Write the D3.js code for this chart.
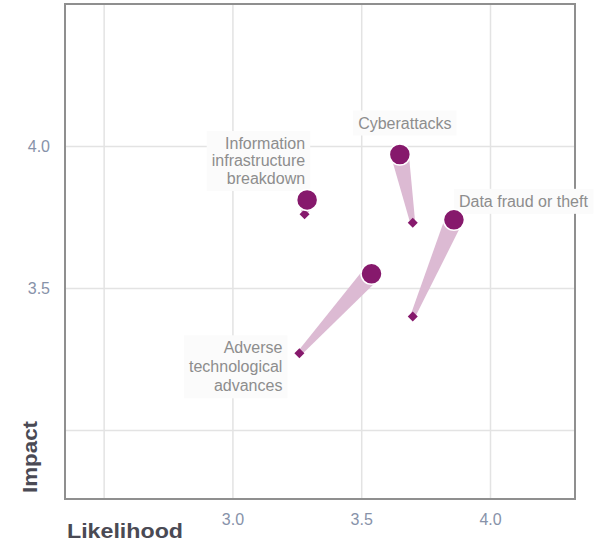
<!DOCTYPE html>
<html>
<head>
<meta charset="utf-8">
<script src="https://cdn.jsdelivr.net/npm/d3@7"></script>
<style>
  html, body { margin: 0; padding: 0; background: #fff; }
  svg { display: block; font-family: "Liberation Sans", Arial, sans-serif; }
</style>
</head>
<body>
<svg id="chart" width="597" height="547"></svg>
<script>
// Risks plotted on likelihood (x) vs impact (y): previous position (diamond) and current position (circle)
const risks = ["Information infrastructure breakdown", "Cyberattacks", "Data fraud or theft", "Adverse technological advances"];
const labelLines = [
  ["Information", "infrastructure", "breakdown"],
  ["Cyberattacks"],
  ["Data fraud or theft"],
  ["Adverse", "technological", "advances"]
];
const likelihoodPrev = [3.28, 3.70, 3.70, 3.26];
const impactPrev     = [3.76, 3.73, 3.40, 3.27];
const likelihoodNow  = [3.29, 3.65, 3.86, 3.54];
const impactNow      = [3.81, 3.97, 3.74, 3.55];

const xGridValues = [2.5, 3.0, 3.5, 4.0];
const yGridValues = [3.0, 3.5, 4.0];
const xTickValues = [3.0, 3.5, 4.0];
const yTickValues = [3.5, 4.0];

const svg = d3.select("#chart");
const plot = { left: 65, right: 575, top: 4, bottom: 499 };

const x = d3.scaleLinear().domain([2.35, 4.33]).range([plot.left, plot.right]);
const y = d3.scaleLinear().domain([2.757, 4.5]).range([plot.bottom, plot.top]);

const purple = "#86196c";
const band = "#dcbad3";

// gridlines
const gx = svg.append("g")
  .attr("transform", `translate(0,${plot.bottom})`)
  .call(d3.axisBottom(x).tickValues(xGridValues).tickSize(-(plot.bottom - plot.top)).tickFormat(""));
const gy = svg.append("g")
  .attr("transform", `translate(${plot.left},0)`)
  .call(d3.axisLeft(y).tickValues(yGridValues).tickSize(-(plot.right - plot.left)).tickFormat(""));
[gx, gy].forEach(g => {
  g.select(".domain").remove();
  g.selectAll(".tick line").attr("stroke", "#e3e3e3").attr("stroke-width", 1.5);
});

// frame
svg.append("rect")
  .attr("x", plot.left).attr("y", plot.top)
  .attr("width", plot.right - plot.left).attr("height", plot.bottom - plot.top)
  .attr("fill", "none").attr("stroke", "#8f8f8f").attr("stroke-width", 2);

// tick labels
const tickColor = "#8792a9";
const ax = svg.append("g")
  .attr("transform", `translate(0,${plot.bottom})`)
  .call(d3.axisBottom(x).tickValues(xTickValues).tickSize(0).tickPadding(15).tickFormat(d3.format(".1f")));
const ay = svg.append("g")
  .attr("transform", `translate(${plot.left},0)`)
  .call(d3.axisLeft(y).tickValues(yTickValues).tickSize(0).tickPadding(15).tickFormat(d3.format(".1f")));
[ax, ay].forEach(g => {
  g.select(".domain").remove();
  g.selectAll("text").attr("fill", tickColor).attr("font-size", 16).attr("font-family", "Liberation Sans, Arial, sans-serif");
});

// axis titles
svg.append("text")
  .attr("transform", "translate(37,493) rotate(-90)")
  .attr("font-size", 20).attr("font-weight", "bold").attr("fill", "#4a4a54")
  .attr("textLength", 72).attr("lengthAdjust", "spacingAndGlyphs")
  .text("Impact");
svg.append("text")
  .attr("x", 67).attr("y", 538)
  .attr("font-size", 20).attr("font-weight", "bold").attr("fill", "#4a4a54")
  .attr("textLength", 116).attr("lengthAdjust", "spacingAndGlyphs")
  .text("Likelihood");

// movement bands: tapered from previous (narrow) to current (wide)
const items = risks.map((name, i) => ({
  name, lines: labelLines[i],
  x0: x(likelihoodPrev[i]), y0: y(impactPrev[i]),
  x1: x(likelihoodNow[i]), y1: y(impactNow[i])
}));

function taper(d, w0, w1) {
  const dx = d.x1 - d.x0, dy = d.y1 - d.y0;
  const len = Math.hypot(dx, dy) || 1;
  const nx = -dy / len, ny = dx / len;
  return [
    [d.x0 + nx * w0, d.y0 + ny * w0],
    [d.x1 + nx * w1, d.y1 + ny * w1],
    [d.x1 - nx * w1, d.y1 - ny * w1],
    [d.x0 - nx * w0, d.y0 - ny * w0]
  ];
}
svg.append("g").selectAll("path")
  .data(items)
  .join("path")
  .attr("d", d => d3.line()(taper(d, 2.5, 9)) + "Z")
  .attr("fill", band);

// labels: placement relative to the marker each one names
const labelPlacement = [
  { anchor: "end",    dx: -2,  dy: -51, ref: "now" },
  { anchor: "middle", dx: 5,   dy: -26, ref: "now" },
  { anchor: "start",  dx: 5,   dy: -13, ref: "now" },
  { anchor: "end",    dx: -17, dy: 0,   ref: "prev" }
];
const lineHeight = [17.5, 17.5, 17.5, 19];
const labelColor = "#8d8d8d";

const labels = svg.append("g").selectAll("g")
  .data(items)
  .join("g");

labels.each(function (d, i) {
  const p = labelPlacement[i];
  const bx = (p.ref === "now" ? d.x1 : d.x0) + p.dx;
  const by = (p.ref === "now" ? d.y1 : d.y0) + p.dy;
  const g = d3.select(this);
  const bg = g.append("rect").attr("fill", "#fbfbfb");
  const t = g.append("text")
    .attr("font-size", 16)
    .attr("fill", labelColor)
    .attr("text-anchor", p.anchor);
  d.lines.forEach((ln, k) => {
    t.append("tspan").attr("x", bx).attr("y", by + k * lineHeight[i]).text(ln);
  });
  const bb = t.node().getBBox();
  bg.attr("x", bb.x - 5).attr("y", bb.y - 4)
    .attr("width", bb.width + 10).attr("height", bb.height + 8);
});

// previous positions (diamonds)
svg.append("g").selectAll("path")
  .data(items)
  .join("path")
  .attr("transform", d => `translate(${d.x0},${d.y0}) rotate(45)`)
  .attr("d", d3.symbol(d3.symbolSquare, 50)())
  .attr("fill", purple);

// current positions (circles)
svg.append("g").selectAll("circle")
  .data(items)
  .join("circle")
  .attr("cx", d => d.x1).attr("cy", d => d.y1)
  .attr("r", 10.5)
  .attr("fill", purple)
  .attr("stroke", "#fff").attr("stroke-width", 1.5);
</script>
</body>
</html>
